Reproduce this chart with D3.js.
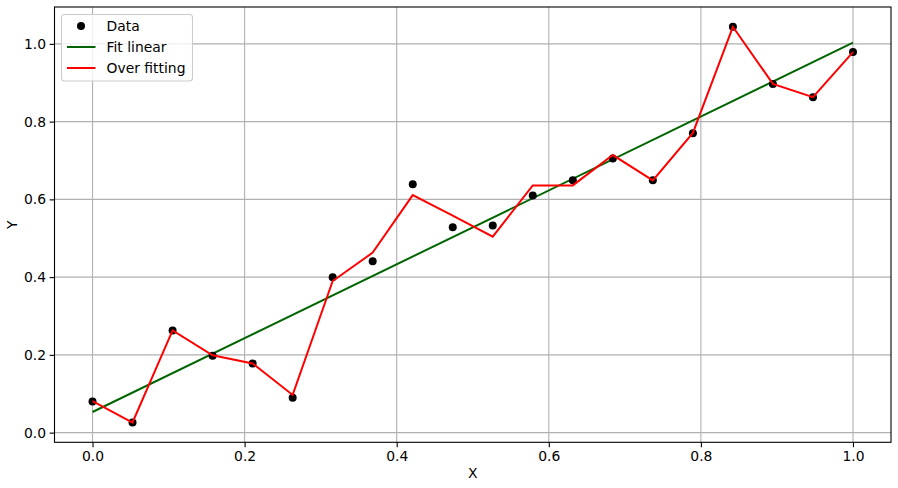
<!DOCTYPE html>
<html><head><meta charset="utf-8">
<script src="https://cdn.jsdelivr.net/npm/d3@7"></script>
<style>
html,body{margin:0;padding:0;background:#fff;}
svg text{font-family:"DejaVu Sans",sans-serif;}
</style></head>
<body><svg id="c" width="898" height="488"></svg>
<script>
const xData = [0, 0.0526, 0.1053, 0.1579, 0.2105, 0.2632, 0.3158, 0.3684, 0.4211, 0.4737, 0.5263, 0.5789, 0.6316, 0.6842, 0.7368, 0.7895, 0.8421, 0.8947, 0.9474, 1.0];
const yData = [0.080, 0.026, 0.263, 0.198, 0.178, 0.090, 0.400, 0.441, 0.639, 0.528, 0.533, 0.610, 0.649, 0.705, 0.649, 0.770, 1.044, 0.897, 0.863, 0.979];
const yOver = [0.081, 0.026, 0.263, 0.199, 0.178, 0.097, 0.390, 0.463, 0.611, 0.558, 0.504, 0.636, 0.636, 0.714, 0.649, 0.771, 1.044, 0.897, 0.863, 0.979];
const xFit = [0, 1];
const yFit = [0.053, 1.003];
const xTicks = [0, 0.2, 0.4, 0.6, 0.8, 1.0];
const yTicks = [0, 0.2, 0.4, 0.6, 0.8, 1.0];
const legendLabels = ["Data", "Fit linear", "Over fitting"];

const svg = d3.select("#c");
const L = 54.5, R = 891, T = 7, B = 442.3;
const fs = 13.9;

const xmin = d3.min(xData), xmax = d3.max(xData), xr = xmax - xmin;
const allY = yData.concat(yOver, yFit);
const ymin = d3.min(allY), ymax = d3.max(allY), yr = ymax - ymin;
const x = d3.scaleLinear().domain([xmin - 0.05*xr, xmax + 0.05*xr]).range([L, R]);
const y = d3.scaleLinear().domain([ymin - 0.05*yr, ymax + 0.05*yr]).range([B, T]);

// grid
const g = svg.append("g");
g.selectAll(".gx").data(xTicks).enter().append("line")
  .attr("x1", d=>x(d)).attr("x2", d=>x(d)).attr("y1", T).attr("y2", B)
  .attr("stroke", "#b0b0b0").attr("stroke-width", 1.1);
g.selectAll(".gy").data(yTicks).enter().append("line")
  .attr("y1", d=>y(d)).attr("y2", d=>y(d)).attr("x1", L).attr("x2", R)
  .attr("stroke", "#b0b0b0").attr("stroke-width", 1.1);

svg.append("clipPath").attr("id","clp").append("rect")
  .attr("x", L).attr("y", T).attr("width", R-L).attr("height", B-T);
const plot = svg.append("g").attr("clip-path","url(#clp)");

// fit line
plot.append("path").datum(xFit.map((d,i)=>[d, yFit[i]]))
  .attr("d", d3.line().x(d=>x(d[0])).y(d=>y(d[1])))
  .attr("fill","none").attr("stroke","#006400").attr("stroke-width",2);
// data points
plot.selectAll(".pt").data(xData.map((d,i)=>[d, yData[i]])).enter().append("circle")
  .attr("cx", d=>x(d[0])).attr("cy", d=>y(d[1])).attr("r", 4).attr("fill","#000");
// over fit
plot.append("path").datum(xData.map((d,i)=>[d, yOver[i]]))
  .attr("d", d3.line().x(d=>x(d[0])).y(d=>y(d[1])))
  .attr("fill","none").attr("stroke","#ff0000").attr("stroke-width",2);

// axes
const fmt = d3.format(".1f");
const ax = svg.append("g").attr("transform", `translate(0,${B})`)
  .call(d3.axisBottom(x).tickValues(xTicks).tickFormat(fmt).tickSize(4.9).tickPadding(3.6));
const ay = svg.append("g").attr("transform", `translate(${L},0)`)
  .call(d3.axisLeft(y).tickValues(yTicks).tickFormat(fmt).tickSize(4.9).tickPadding(3.6));
[ax, ay].forEach(a => {
  a.select(".domain").remove();
  a.selectAll("line").attr("stroke","#000").attr("stroke-width",1.1);
  a.selectAll("text").attr("font-size", fs).attr("fill","#000").attr("font-family","DejaVu Sans");
});

// spines
svg.append("rect").attr("x", L).attr("y", T).attr("width", R-L).attr("height", B-T)
  .attr("fill","none").attr("stroke","#000").attr("stroke-width",1.1);

// axis labels
svg.append("text").attr("x", (L+R)/2).attr("y", 478).attr("text-anchor","middle")
  .attr("font-size", fs).text("X");
svg.append("text").attr("transform", `translate(17,${(T+B)/2}) rotate(-90)`)
  .attr("text-anchor","middle").attr("font-size", fs).text("Y");

// legend
const lg = svg.append("g");
lg.append("rect").attr("x", 61.5).attr("y", 14.5).attr("width", 131).attr("height", 66.5)
  .attr("rx", 3).attr("fill","#fff").attr("fill-opacity",0.8)
  .attr("stroke","#cccccc").attr("stroke-width",1.1);
const rows = [26, 47, 68];
lg.append("circle").attr("cx", 81).attr("cy", rows[0]).attr("r", 4).attr("fill","#000");
lg.append("line").attr("x1", 67).attr("x2", 95.5).attr("y1", rows[1]).attr("y2", rows[1])
  .attr("stroke","#006400").attr("stroke-width",2);
lg.append("line").attr("x1", 67).attr("x2", 95.5).attr("y1", rows[2]).attr("y2", rows[2])
  .attr("stroke","#ff0000").attr("stroke-width",2);
lg.selectAll(".lt").data(legendLabels).enter().append("text")
  .attr("x", 106.5).attr("y", (d,i)=>rows[i]).attr("dy","0.36em")
  .attr("font-size", fs).attr("fill","#000").text(d=>d);
</script></body></html>
